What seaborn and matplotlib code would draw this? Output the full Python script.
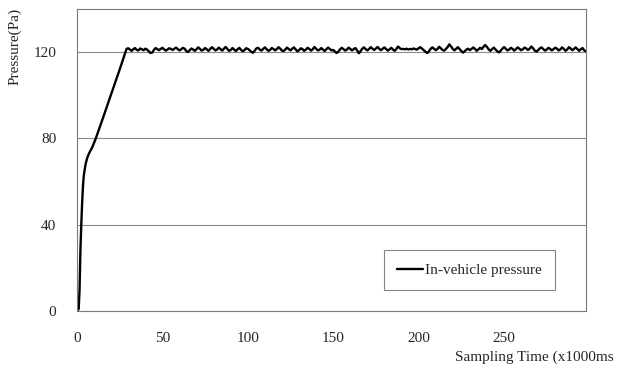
import numpy as np
import pandas as pd
import matplotlib
matplotlib.use("Agg")
import matplotlib.pyplot as plt
import seaborn as sns

# rise phase
rise_time = [0, 1, 1.5, 2, 2.5, 3, 3.5, 4, 5, 6, 7, 9, 11, 15, 20, 25, 29]
rise_pressure = [0, 1, 10, 28, 40, 50, 58, 63, 68, 71, 73, 76, 80, 89, 100.5, 112, 121.5]

# steady phase, one reading per time unit from 30 to 298
plateau_time = list(range(30, 299))
plateau_pressure = [
    121.8, 121.2, 120.6, 121.4, 121.9, 121.0, 120.8, 121.7, 121.3, 120.9,
    121.6, 121.2, 120.4, 119.6, 119.8, 121.0, 121.9, 121.4, 120.9, 121.5,
    122.0, 121.3, 120.7, 121.2, 121.8, 121.5, 121.0, 121.6, 122.1, 121.4,
    120.8, 121.3, 122.0, 121.6, 120.5, 120.1, 120.9, 121.7, 121.2, 120.6,
    121.4, 122.2, 121.5, 120.7, 121.1, 121.9, 121.3, 120.6, 121.5, 122.3,
    121.6, 120.8, 121.2, 122.1, 121.4, 120.7, 121.6, 122.4, 121.5, 120.6,
    121.0, 121.9, 121.2, 120.5, 121.3, 122.0, 121.1, 120.4, 120.9, 121.8,
    121.5, 120.9, 120.2, 119.7, 120.6, 121.7, 122.0, 121.2, 120.7, 121.5,
    122.2, 121.4, 120.6, 121.0, 121.9, 121.5, 120.8, 121.4, 122.3, 121.6,
    120.7, 120.5, 121.3, 122.1, 121.4, 120.8, 121.6, 122.2, 121.3, 120.4,
    120.9, 121.8, 121.4, 120.6, 121.2, 122.0, 121.5, 120.7, 121.3, 122.4,
    121.6, 120.8, 121.1, 121.9, 121.2, 120.5, 121.4, 122.1, 121.5, 120.8,
    121.0, 120.3, 119.6, 120.2, 121.3, 122.0, 121.4, 120.7, 121.2, 122.1,
    121.5, 120.8, 121.4, 121.9, 120.8, 119.5, 120.4, 121.6, 122.2, 121.4,
    120.8, 121.5, 122.3, 121.6, 121.0, 121.7, 122.4, 121.5, 120.9, 121.6,
    122.2, 121.4, 120.7, 121.3, 122.0, 121.2, 120.6, 121.5, 122.6, 121.8,
    121.4, 121.5, 121.3, 121.6, 121.2, 121.5, 121.3, 121.7, 121.4, 121.2,
    121.8, 122.3, 121.6, 120.9, 120.2, 119.6, 120.3, 121.5, 122.2, 121.6,
    120.9, 121.4, 122.5, 121.8, 121.0, 120.7, 121.5, 122.4, 123.6, 122.6,
    121.5, 120.8, 121.6, 122.3, 121.4, 120.5, 119.8, 120.4, 121.2, 121.6,
    120.9, 121.5, 122.2, 121.5, 120.6, 121.3, 122.0, 121.4, 122.5, 123.3,
    122.4, 121.3, 120.6, 121.4, 122.1, 121.3, 120.4, 119.9, 120.6, 121.6,
    122.3, 121.6, 120.8, 121.2, 122.0, 121.5, 120.7, 121.4, 122.2, 121.6,
    120.9, 121.3, 122.1, 121.7, 121.0, 121.6, 122.6, 121.8, 120.7, 120.3,
    120.9, 121.8, 122.2, 121.4, 120.7, 121.2, 122.0, 121.5, 120.8, 121.4,
    122.1, 121.6, 120.8, 121.3, 122.2, 121.5, 120.6, 121.2, 122.3, 121.7,
    120.9, 121.5, 122.2, 121.4, 120.6, 121.4, 121.9, 120.8, 120.3,
]

x_ticks = [0, 50, 100, 150, 200, 250]
y_ticks = [0, 40, 80, 120]

df = pd.DataFrame({
    "time": rise_time + plateau_time,
    "pressure": rise_pressure + plateau_pressure,
})

sns.set_style("white")
plt.rcParams["font.family"] = ["Liberation Serif", "DejaVu Serif"]

fig = plt.figure(figsize=(6.22, 3.71), dpi=100)
ax = fig.add_axes([77 / 622, 1 - 311 / 371, (586 - 77) / 622, (311 - 9) / 371])

for v in y_ticks[1:]:
    ax.axhline(v, color="#8a8a8a", lw=0.8, zorder=0)

sns.lineplot(data=df, x="time", y="pressure", sort=False, color="black",
             lw=1.7, label="In-vehicle pressure", ax=ax)

ax.set_xlim(0, 298)
ax.set_ylim(0, 140)
ax.set_xticks(x_ticks)
ax.set_yticks(y_ticks)
ax.tick_params(axis="both", length=0, labelsize=11)
ax.tick_params(axis="x", pad=15)
ax.tick_params(axis="y", pad=15)
ax.set_xlabel("")
ax.set_ylabel("")
for s in ax.spines.values():
    s.set_color("#7a7a7a")
    s.set_linewidth(0.8)

leg = ax.legend(loc="lower right", bbox_to_anchor=(0.939, 0.070), borderaxespad=0,
                fancybox=False, frameon=True, edgecolor="#666666", fontsize=11,
                handlelength=1.7, handletextpad=0.15, borderpad=0.85)
leg.get_frame().set_linewidth(0.8)

fig.text(15 / 622, 1 - 46 / 371, "Pressure(Pa)", rotation=90, ha="center", va="center", fontsize=11)
fig.text(455 / 622, 1 - 357 / 371, "Sampling Time (x1000ms", ha="left", va="center", fontsize=11)

fig.savefig("out.png", dpi=100)
